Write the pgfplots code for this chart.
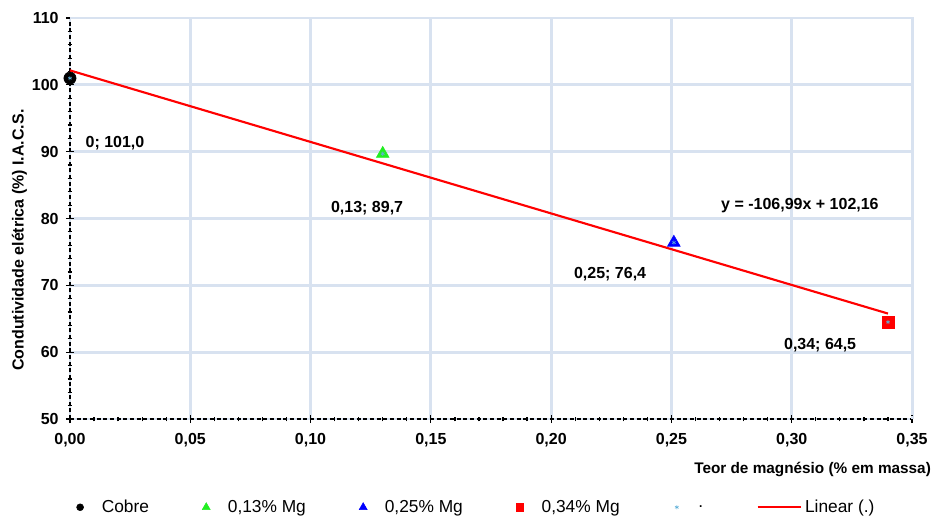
\documentclass[border=0pt]{standalone}
\usepackage{fontspec}
\setmainfont{Liberation Sans}
\usepackage{pgfplots}
\pgfplotsset{compat=1.18}
\definecolor{gridblue}{HTML}{D8E2F0}
\definecolor{mggreen}{HTML}{22EE22}
\definecolor{starblue}{HTML}{5FB0D8}
\pgfplotsset{mylegmark/.style={legend image code/.code={\path[draw=none, fill=none] (-0.1cm,-0.05cm) rectangle (0.5cm,0.05cm); \draw[##1, mark size=#1] plot coordinates {(0cm,0cm)};}}}
\begin{document}
\begin{tikzpicture}
\begin{axis}[
  scale only axis,
  width=631.5pt, height=300.75pt,
  xmin=0, xmax=0.35, ymin=50, ymax=110,
  xtick={0,0.05,...,0.35}, ytick={50,60,...,110},
  minor x tick num=4, minor y tick num=4,
  axis x line*=bottom, axis y line*=left,
  axis line style={black, densely dashed, line width=1.1pt, -},
  grid=major,
  major grid style={gridblue, line width=2.2pt},
  tick style={black, line width=0.9pt},
  major tick length=6pt, minor tick length=3.5pt,
  tick align=center,
  /pgf/number format/assume math mode=true,
  x tick label style={yshift=-4pt, /pgf/number format/fixed, /pgf/number format/fixed zerofill, /pgf/number format/precision=2, /pgf/number format/use comma},
  y tick label style={xshift=-2pt, /pgf/number format/fixed},
  ticklabel style={font=\bfseries\fontsize{12}{14}\selectfont},
  clip=false,
  legend columns=6,
  legend style={draw=none, fill=none, at={(rel axis cs:0.483,-0.22)}, anchor=center,
    font=\fontsize{13}{15}\selectfont,
    /tikz/every even column/.append style={column sep=38pt},
    /tikz/column 10/.append style={column sep=20pt}},
  legend cell align=left,
]
\draw[gridblue, densely dashed, line width=2.2pt] (rel axis cs:0,1) -- (rel axis cs:1,1) -- (rel axis cs:1,0);
\addplot[only marks, mark=*, mark size=4.6pt, black, mylegmark=2.6pt] coordinates {(0,101.0)};
\addlegendentry{Cobre}
\addplot[only marks, mark=triangle*, mark size=5.5pt, mggreen, mylegmark=3.4pt] coordinates {(0.13,89.7)};
\addlegendentry{0,13\% Mg}
\addplot[only marks, mark=triangle*, mark size=5.5pt, blue, mylegmark=3.4pt] coordinates {(0.251,76.4)};
\addlegendentry{0,25\% Mg}
\addplot[only marks, mark=square*, mark size=4.5pt, red, mylegmark=2.8pt] coordinates {(0.34,64.5)};
\addlegendentry{0,34\% Mg}
\addplot[only marks, mark=asterisk, mark size=1.6pt, starblue, mylegmark=1.6pt] coordinates {(0,101.0) (0.13,89.7) (0.251,76.4) (0.34,64.5)};
\addlegendentry{.}
\addplot[red, line width=1.6pt, no marks, legend image code/.code={\draw[red, line width=1.6pt] (0cm,0cm) -- (1.15cm,0cm);}] coordinates {(0,102.16) (0.34,65.78)};
\addlegendentry{Linear (.)}
\node[font=\bfseries\fontsize{12}{14}\selectfont] at (axis cs:0.0187,91.3) {0; 101,0};
\node[font=\bfseries\fontsize{12}{14}\selectfont] at (axis cs:0.1235,81.6) {0,13; 89,7};
\node[font=\bfseries\fontsize{12}{14}\selectfont] at (axis cs:0.2245,71.7) {0,25; 76,4};
\node[font=\bfseries\fontsize{12}{14}\selectfont] at (axis cs:0.3118,61.1) {0,34; 64,5};
\node[font=\bfseries\fontsize{12}{14}\selectfont] at (axis cs:0.3034,81.9) {y = -106,99x + 102,16};
\node[font=\bfseries\fontsize{11.5}{14}\selectfont, anchor=east] at (rel axis cs:1.028,-0.125) {Teor de magnésio (\% em massa)};
\node[font=\bfseries\fontsize{12}{14}\selectfont, rotate=90] at (rel axis cs:-0.06,0.446) {Condutividade elétrica (\%) I.A.C.S.};
\coordinate (bl) at (rel axis cs:-0.0831,-0.2469);
\coordinate (tr) at (rel axis cs:1.0261,1.0449);
\end{axis}
\pgfresetboundingbox
\path (bl) rectangle (tr);
\end{tikzpicture}
\end{document}
